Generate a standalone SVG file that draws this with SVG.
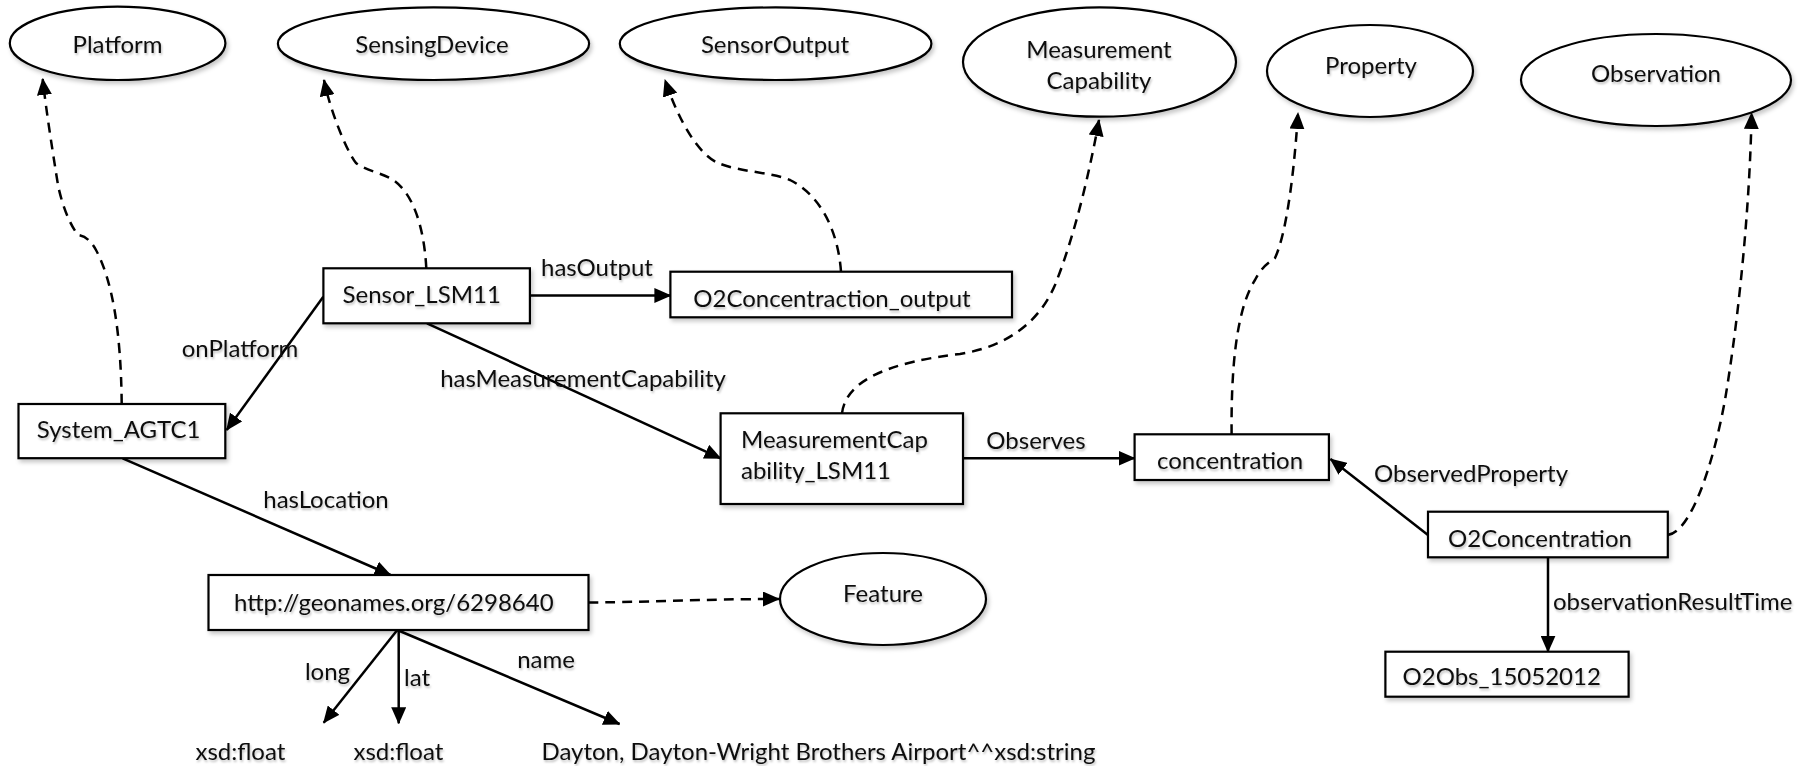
<svg xmlns="http://www.w3.org/2000/svg" width="1820" height="766" viewBox="0 0 1820 766">
<defs>
<marker id="ah" markerUnits="userSpaceOnUse" markerWidth="17" markerHeight="15" refX="16" refY="7.5" orient="auto"><path d="M0,0 L17,7.5 L0,15 Z" fill="#000" stroke="none"/></marker>
<filter id="sh" x="-10%" y="-10%" width="130%" height="150%"><feDropShadow dx="2" dy="3" stdDeviation="2" flood-color="#000" flood-opacity="0.22"/></filter>
<filter id="tsh" x="-5%" y="-20%" width="115%" height="160%"><feDropShadow dx="1" dy="2" stdDeviation="1.2" flood-color="#000" flood-opacity="0.25"/></filter>
</defs>
<style>
.n rect,.n ellipse{fill:#fff;stroke:#000;stroke-width:2.2;filter:url(#sh)}
text{font-family:Lato,"Liberation Sans",sans-serif;font-size:24px;fill:#111;filter:url(#tsh)}
.c{text-anchor:middle}
.e{fill:none;stroke:#000;stroke-width:2.5;marker-end:url(#ah)}
.d{stroke-dasharray:10 7}
</style>
<rect width="1820" height="766" fill="#fff"/>

<g id="connectors">
<path class="e" d="M323.3,296.7 L226.7,430"/>
<path class="e" d="M530,295.5 L670.4,295.5"/>
<path class="e" d="M427,323.3 L720.6,458.3"/>
<path class="e" d="M963,458.3 L1134.6,458.3"/>
<path class="e" d="M1428,535 L1330.5,459"/>
<path class="e" d="M1548,557.3 L1548,651.7"/>
<path class="e" d="M122.6,458.3 L390.6,575"/>
<path class="e" d="M397.3,630 L323.7,722.7"/>
<path class="e" d="M398.7,630 L398.7,723.3"/>
<path class="e" d="M397.3,630 L619.6,724"/>
<path class="e d" d="M588,602.5 C660,602 700,599 779,599"/>
<path class="e d" d="M121.7,404 C121,330 112,280 96,250 C90,239 84,236 78,235 C70,225 62,205 58,185 C54,160 46,110 42.7,79"/>
<path class="e d" d="M426.3,268.3 C424,225 412,190 390,178 C378,172 365,170 356,163 C346,150 330,110 324,80"/>
<path class="e d" d="M841,271.7 C838,230 820,195 790,180 C770,172 740,172 718,163 C700,155 680,125 665,80"/>
<path class="e d" d="M842,413.3 C846,380 890,362 960,354 C1010,346 1040,320 1055,285 C1075,235 1090,170 1099,120"/>
<path class="e d" d="M1231.6,434.3 C1231,370 1236,310 1255,280 C1262,266 1270,262 1275,258 C1288,230 1295,160 1298,113"/>
<path class="e d" d="M1667.8,535 C1690,532 1712,470 1725,400 C1740,310 1750,200 1751.6,113"/>
<g id="edge-labels">
<text class="c" x="597" y="276">hasOutput</text>
<text class="c" x="240" y="357">onPlatform</text>
<text class="c" x="583" y="387">hasMeasurementCapability</text>
<text class="c" x="326" y="508">hasLocation</text>
<text class="c" x="1036" y="449">Observes</text>
<text class="c" x="1471" y="482">ObservedProperty</text>
<text x="1553" y="610">observationResultTime</text>
<text class="c" x="327.5" y="680">long</text>
<text x="404" y="685.7">lat</text>
<text class="c" x="546" y="668">name</text>
</g>
</g>

<g id="platform" class="n"><ellipse cx="117.6" cy="43.3" rx="107.8" ry="36.7"/><text class="c" x="117.6" y="53">Platform</text></g>
<g id="sensingdevice" class="n"><ellipse cx="433.5" cy="43.7" rx="155.6" ry="36.3"/><text class="c" x="432" y="53">SensingDevice</text></g>
<g id="sensoroutput" class="n"><ellipse cx="775.6" cy="43.7" rx="155.8" ry="36.3"/><text class="c" x="775" y="53">SensorOutput</text></g>
<g id="measurementcapability" class="n"><ellipse cx="1099.5" cy="62" rx="136.5" ry="54.7"/><text class="c" x="1099" y="58">Measurement</text><text class="c" x="1099" y="89">Capability</text></g>
<g id="property" class="n"><ellipse cx="1370" cy="71" rx="103" ry="46"/><text class="c" x="1371" y="74">Property</text></g>
<g id="observation" class="n"><ellipse cx="1656" cy="80" rx="135" ry="46"/><text class="c" x="1656" y="82">Observation</text></g>
<g id="feature" class="n"><ellipse cx="883" cy="599" rx="103" ry="46"/><text class="c" x="883" y="602">Feature</text></g>

<g id="sensor_lsm11" class="n"><rect x="323.4" y="268.3" width="206.5" height="55"/><text class="c" x="421.7" y="303.3">Sensor_LSM11</text></g>
<g id="system_agtc1" class="n"><rect x="18.5" y="404" width="206.8" height="54.2"/><text class="c" x="118.6" y="438">System_AGTC1</text></g>
<g id="o2concentraction_output" class="n"><rect x="670.4" y="271.7" width="341.6" height="45.6"/><text class="c" x="832" y="306.7">O2Concentraction_output</text></g>
<g id="measurementcapability_lsm11" class="n"><rect x="720.6" y="413.3" width="242.4" height="90.7"/><text x="741" y="448.3">MeasurementCap</text><text x="741" y="479.3">ability_LSM11</text></g>
<g id="concentration" class="n"><rect x="1134.6" y="434.3" width="194.3" height="45.7"/><text class="c" x="1230" y="469.3">concentration</text></g>
<g id="o2concentration" class="n"><rect x="1428" y="511.7" width="239.8" height="45.6"/><text class="c" x="1540" y="546.7">O2Concentration</text></g>
<g id="o2obs" class="n"><rect x="1385.4" y="651.7" width="243.2" height="45"/><text class="c" x="1501.7" y="685">O2Obs_15052012</text></g>
<g id="geonames" class="n"><rect x="208.5" y="575" width="380" height="55"/><text class="c" x="393.8" y="610.7">http://geonames.org/6298640</text></g>
<g id="long_value"><text class="c" x="240.4" y="760">xsd:float</text></g>
<g id="lat_value"><text class="c" x="398.4" y="760">xsd:float</text></g>
<g id="name_value"><text x="541.5" y="760">Dayton, Dayton-Wright Brothers Airport^^xsd:string</text></g>
</svg>
